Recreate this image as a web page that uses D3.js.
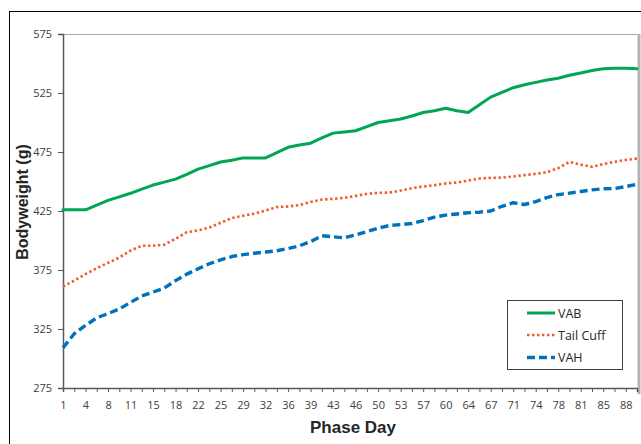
<!DOCTYPE html>
<html>
<head>
<meta charset="utf-8">
<script src="https://cdn.jsdelivr.net/npm/d3@7"></script>
<style>
  html, body { margin: 0; padding: 0; background: #fff; }
  svg { display: block; }
  .tick text { font-family: "Open Sans", sans-serif; font-size: 11px; fill: #404040; }
</style>
</head>
<body>
<svg id="chart" width="641" height="444"></svg>
<script>
// ---- data ----
const days = [1,3,4,6,8,10,11,13,15,17,18,20,22,24,25,27,29,31,32,34,36,38,39,41,43,45,46,48,50,52,53,55,57,59,60,62,64,66,67,69,71,73,74,76,78,80,81,83,85,87,88,90];
const seriesNames = ["VAB", "Tail Cuff", "VAH"];
const vab = [426,426,426,430,434,437,440,443.5,447,449.5,452,456,460.5,463.5,466.5,468,470,470,470,474.5,479,481,482.5,487,491,492,493,496.5,500,501.5,503,505.5,508.5,510,512,510,508.5,515,521.5,525.5,529.5,532,534,536,537.5,540,542,544,545.5,546,546,545.5];
const tailCuff = [361,366,371.5,376.5,381,385.5,391.5,395.5,395.5,396.5,401.5,407,408.5,411,415,419,421,422.7,425.4,428.3,428.8,430,432.7,434.7,435.3,436.1,437.8,439.5,440.4,440.6,442.3,444.3,445.7,446.9,448.4,449.1,450.8,452.5,453.1,453.3,454.2,455.4,456.5,457.9,461.3,466.6,464.3,462.4,464.7,466.6,468.3,469.4];
const vah = [309,321,328,334.5,338,342,347.5,353,356.3,359.7,366,371.5,376,380.3,383.6,386.4,388,389.2,390.2,391.3,393.2,395.5,399.1,404,403.1,402.3,404.8,407.6,410.5,412.7,413.5,414.4,416.9,419.8,421.5,422.5,423.5,424,425,429,432,430.5,433,436.4,438.9,440.1,441.5,442.9,443.8,444,445.7,447.7];
const yTicks = [275,325,375,425,475,525,575];
const xTitle = "Phase Day";
const yTitle = "Bodyweight (g)";

// ---- layout ----
const svg = d3.select("#chart");
const plot = { left: 63, right: 637, top: 34, bottom: 388 };

const x = d3.scalePoint().domain(d3.range(days.length)).range([plot.left, plot.right]);
const y = d3.scaleLinear().domain([275, 575]).range([plot.bottom, plot.top]);

// outer frame (extends beyond the picture at right/bottom)
svg.append("rect").attr("x", 9.5).attr("y", 11.5).attr("width", 660).attr("height", 460)
  .attr("fill", "none").attr("stroke", "#000").attr("stroke-width", 1);

// plot area border
svg.append("line").attr("x1", plot.left).attr("x2", plot.right + 2).attr("y1", plot.top + 0.5).attr("y2", plot.top + 0.5)
  .attr("stroke", "#a6a6a6").attr("stroke-width", 1);
svg.append("line").attr("x1", plot.right + 2).attr("x2", plot.right + 2).attr("y1", plot.top).attr("y2", plot.bottom + 6)
  .attr("stroke", "#b3b3b3").attr("stroke-width", 3);

// axes
const yAxis = d3.axisLeft(y).tickValues(yTicks).tickSize(5).tickPadding(6).tickFormat(d3.format("d"));
const gy = svg.append("g").attr("transform", `translate(${plot.left},0)`).call(yAxis);
gy.select(".domain").attr("stroke", "#595959").attr("stroke-width", 1.5);
gy.selectAll(".tick line").attr("stroke", "#595959");

const xAxis = d3.axisBottom(x).tickSize(4).tickPadding(9)
  .tickFormat(i => (i % 2 === 0 ? String(days[i]) : ""));
const gx = svg.append("g").attr("transform", `translate(0,${plot.bottom})`).call(xAxis);
gx.select(".domain").attr("stroke", "#595959").attr("stroke-width", 1.5);
gx.selectAll(".tick line").attr("stroke", "#595959");

// titles
svg.append("text").attr("x", 353).attr("y", 433).attr("text-anchor", "middle")
  .attr("font-family", "Liberation Sans, Arial, sans-serif").attr("font-weight", "bold")
  .attr("font-size", 17).attr("fill", "#262626").text(xTitle);
svg.append("text").attr("transform", "translate(28,202) rotate(-90)").attr("text-anchor", "middle")
  .attr("font-family", "Liberation Sans, Arial, sans-serif").attr("font-weight", "bold")
  .attr("font-size", 16).attr("fill", "#262626").text(yTitle);

// lines
const styles = [
  { data: vab, color: "#00a651", width: 3, dash: null, cap: "round" },
  { data: tailCuff, color: "#f15a2b", width: 2.6, dash: "2.4,2.6", cap: "butt" },
  { data: vah, color: "#0072bc", width: 3.4, dash: "8,4", cap: "butt" }
];
const line = d3.line().x((d, i) => x(i)).y(d => y(d));
styles.forEach(s => {
  svg.append("path").datum(s.data).attr("d", line)
    .attr("fill", "none").attr("stroke", s.color).attr("stroke-width", s.width)
    .attr("stroke-linejoin", "round").attr("stroke-linecap", s.cap)
    .attr("stroke-dasharray", s.dash);
});

// legend
const lg = svg.append("g");
lg.append("rect").attr("x", 507.5).attr("y", 300.5).attr("width", 115).attr("height", 69)
  .attr("fill", "#fff").attr("stroke", "#404040").attr("stroke-width", 1);
const rowY = [313, 335, 357.5];
styles.forEach((s, k) => {
  lg.append("line").attr("x1", 527).attr("x2", 555).attr("y1", rowY[k]).attr("y2", rowY[k])
    .attr("stroke", s.color).attr("stroke-width", s.width).attr("stroke-dasharray", s.dash);
  lg.append("text").attr("x", 558).attr("y", rowY[k]).attr("dy", "0.36em")
    .attr("font-family", "Open Sans, sans-serif").attr("font-size", 12.5).attr("fill", "#262626")
    .text(seriesNames[k]);
});
</script>
</body>
</html>
